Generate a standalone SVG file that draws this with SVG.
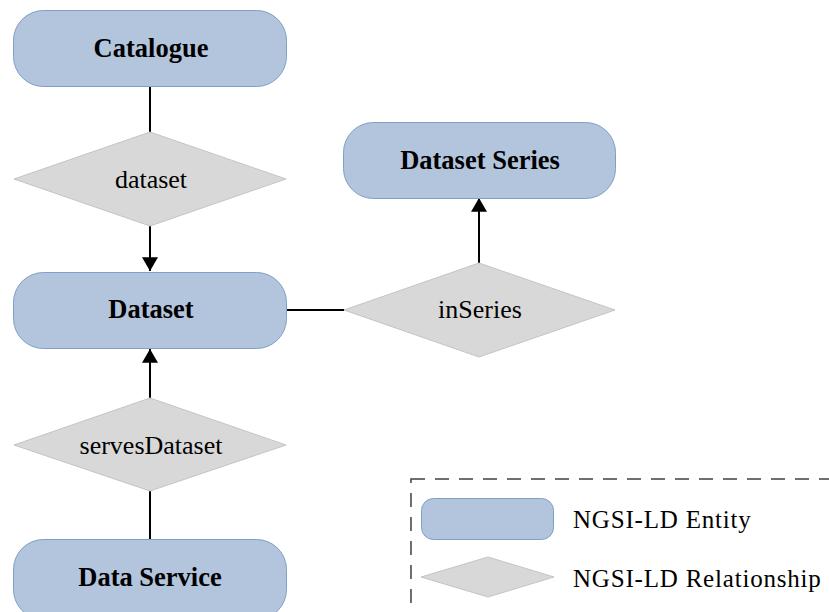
<svg xmlns="http://www.w3.org/2000/svg" width="829" height="612" viewBox="0 0 829 612">
<style>
.ent{fill:#b2c5dc;stroke:#7f9fc7;stroke-width:1}
.rel{fill:#d8d8d8;stroke:#c4c4c4;stroke-width:1}
.et{font-weight:bold;font-size:26.5px;text-anchor:middle;fill:#000}
.rt{font-size:26px;text-anchor:middle;fill:#000}
.lt{font-size:25px;letter-spacing:0.8px;fill:#000}
.cn{stroke:#000;stroke-width:2;fill:none}
.f{font-family:"Liberation Serif","Times New Roman",Times,serif}
</style>
<defs>
<marker id="ah" viewBox="0 0 12 14" refX="12" refY="7" markerWidth="8" markerHeight="8" markerUnits="strokeWidth" orient="auto">
<path d="M0,0 L12,7 L0,14 z" fill="#000"/>
</marker>
</defs>
<rect width="829" height="612" fill="#fff"/>
<g id="connectors">
<line class="cn" x1="150" y1="86" x2="150" y2="132"/>
<line class="cn" x1="150" y1="226" x2="150" y2="271" marker-end="url(#ah)"/>
<line class="cn" x1="287" y1="310" x2="344" y2="310"/>
<line class="cn" x1="479" y1="263" x2="479" y2="198" marker-end="url(#ah)"/>
<line class="cn" x1="150" y1="398" x2="150" y2="349" marker-end="url(#ah)"/>
<line class="cn" x1="150" y1="491" x2="150" y2="539"/>
</g>
<g id="catalogue">
<rect class="ent" x="13.5" y="10.5" width="273" height="76" rx="30"/>
<text class="et f" x="151" y="57">Catalogue</text>
</g>
<g id="rel-dataset">
<polygon class="rel" points="150,132 286,179 150,226 14,179"/>
<text class="rt f" x="151" y="188">dataset</text>
</g>
<g id="dataset">
<rect class="ent" x="13.5" y="272.5" width="273" height="76" rx="30"/>
<text class="et f" x="151" y="318">Dataset</text>
</g>
<g id="dataset-series">
<rect class="ent" x="343.5" y="122.5" width="272" height="76" rx="30"/>
<text class="et f" x="480" y="169">Dataset Series</text>
</g>
<g id="rel-inseries">
<polygon class="rel" points="479,263 615,310 479,357 344,310"/>
<text class="rt f" x="480" y="318">inSeries</text>
</g>
<g id="rel-servesdataset">
<polygon class="rel" points="150,398 286,445 150,491 14,445"/>
<text class="rt f" x="151" y="454">servesDataset</text>
</g>
<g id="data-service">
<rect class="ent" x="13.5" y="539.5" width="273" height="80" rx="30"/>
<text class="et f" x="150" y="586">Data Service</text>
</g>
<g id="legend">
<rect x="411" y="479" width="440" height="150" fill="none" stroke="#404040" stroke-width="1.5" stroke-dasharray="14,10"/>
<rect class="ent" x="421.5" y="498.5" width="132" height="41" rx="12"/>
<text class="lt f" x="573" y="528">NGSI-LD Entity</text>
<polygon class="rel" points="488,557 554,577 488,597 421,577"/>
<text class="lt f" x="573" y="587">NGSI-LD Relationship</text>
</g>
</svg>
